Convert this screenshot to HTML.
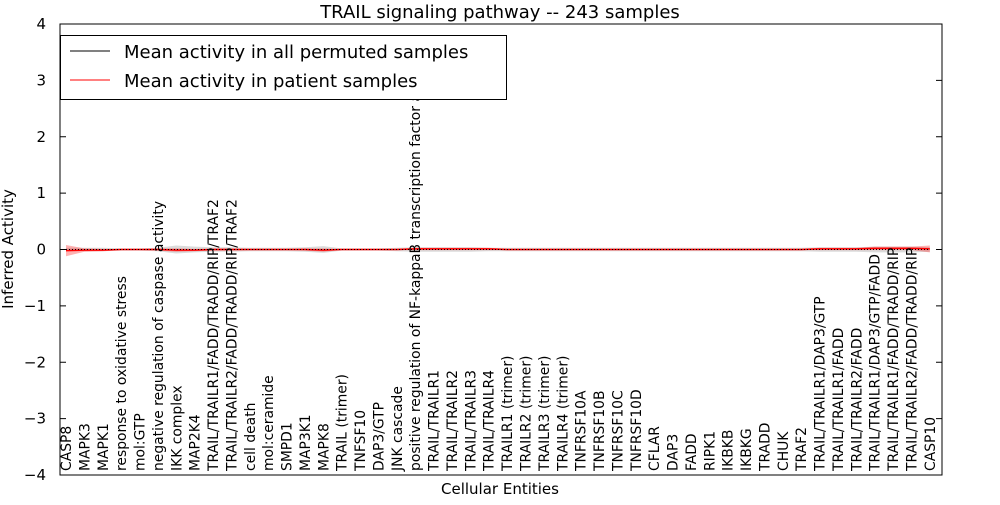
<!DOCTYPE html>
<html><head><meta charset="utf-8"><style>
body{margin:0;background:#fff;}
svg text{font-family:"DejaVu Sans","Liberation Sans",sans-serif;}
</style></head><body>
<svg id="chart" width="1000" height="500" xmlns="http://www.w3.org/2000/svg">
<rect width="1000" height="500" fill="#fff"/>
<g id="plot"></g>
<rect x="60" y="24" width="882" height="451" fill="none" stroke="#000" stroke-width="1"/>
<text x="500" y="18" font-size="18" text-anchor="middle">TRAIL signaling pathway -- 243 samples</text>
<text x="500" y="494" font-size="15" text-anchor="middle">Cellular Entities</text>
<text transform="translate(13,249) rotate(-90)" font-size="15" text-anchor="middle">Inferred Activity</text>
<g>
<rect x="60.5" y="35.5" width="446" height="64" fill="#fff" stroke="#000"/>
<line x1="70" y1="51" x2="110" y2="51" stroke="#000"/>
<text x="124" y="58" font-size="18">Mean activity in all permuted samples</text>
<line x1="70" y1="80" x2="110" y2="80" stroke="#f00"/>
<text x="124" y="87" font-size="18">Mean activity in patient samples</text>
</g>
</svg>
<script>
const categories=["CASP8","MAPK3","MAPK1","response to oxidative stress","mol:GTP","negative regulation of caspase activity","IKK complex","MAP2K4","TRAIL/TRAILR1/FADD/TRADD/RIP/TRAF2","TRAIL/TRAILR2/FADD/TRADD/RIP/TRAF2","cell death","mol:ceramide","SMPD1","MAP3K1","MAPK8","TRAIL (trimer)","TNFSF10","DAP3/GTP","JNK cascade","positive regulation of NF-kappaB transcription factor a","TRAIL/TRAILR1","TRAIL/TRAILR2","TRAIL/TRAILR3","TRAIL/TRAILR4","TRAILR1 (trimer)","TRAILR2 (trimer)","TRAILR3 (trimer)","TRAILR4 (trimer)","TNFRSF10A","TNFRSF10B","TNFRSF10C","TNFRSF10D","CFLAR","DAP3","FADD","RIPK1","IKBKB","IKBKG","TRADD","CHUK","TRAF2","TRAIL/TRAILR1/DAP3/GTP","TRAIL/TRAILR1/FADD","TRAIL/TRAILR2/FADD","TRAIL/TRAILR1/DAP3/GTP/FADD","TRAIL/TRAILR1/FADD/TRADD/RIP","TRAIL/TRAILR2/FADD/TRADD/RIP","CASP10"];
const patientMean=[-0.02,-0.01,-0.01,0,0,0,-0.01,-0.01,0,0,0,0,0,0,-0.01,0,0,0,0,0.01,0.01,0.01,0.01,0.01,0,0,0,0,0,0,0,0,0,0,0,0,0,0,0,0,0,0.01,0.01,0.01,0.02,0.02,0.02,0.01];
const patientSpread=[0.1,0.03,0.02,0.01,0.01,0.02,0.03,0.02,0.02,0.02,0.01,0.01,0.01,0.02,0.03,0.01,0.01,0.01,0.01,0.02,0.02,0.02,0.02,0.02,0.01,0.01,0.01,0.01,0.01,0.01,0.01,0.01,0.01,0.01,0.01,0.01,0.01,0.01,0.01,0.01,0.01,0.02,0.02,0.02,0.03,0.03,0.03,0.06];
const permMean=[0,0,0,0,0,0,0,0,0,0,0,0,0,0,0,0,0,0,0,0,0,0,0,0,0,0,0,0,0,0,0,0,0,0,0,0,0,0,0,0,0,0,0,0,0,0,0,0];
const permSpread=[0.03,0.03,0.03,0.02,0.02,0.03,0.07,0.05,0.04,0.04,0.03,0.03,0.03,0.04,0.06,0.02,0.02,0.02,0.03,0.04,0.04,0.04,0.04,0.03,0.03,0.03,0.03,0.03,0.03,0.03,0.03,0.03,0.03,0.03,0.03,0.03,0.03,0.03,0.03,0.03,0.03,0.04,0.04,0.04,0.05,0.05,0.05,0.04];
const yTicks=[4,3,2,1,0,-1,-2,-3,-4];

const NS="http://www.w3.org/2000/svg";
const g=document.getElementById('plot');
const X=i=>66+i*18.38;
const Y=v=>249.5-v*56.375;
function mk(t,a){const e=document.createElementNS(NS,t);for(const k in a)e.setAttribute(k,a[k]);g.appendChild(e);return e;}
function band(m,s,fill,op,name){
  let d="M"+m.map((v,i)=>X(i)+","+Y(v+s[i])).join("L");
  for(let i=m.length-1;i>=0;i--)d+="L"+X(i)+","+Y(m[i]-s[i]);
  const p=mk('path',{d:d+"Z",fill:fill,'fill-opacity':op,stroke:'none'});
  
  
}
band(permMean,permSpread,'#888',0.3,'permuted-band');
band(patientMean,patientSpread,'#f00',0.3,'patient-band');
const pl=mk('polyline',{points:patientMean.map((v,i)=>X(i)+","+Y(v)).join(" "),fill:'none',stroke:'#f00','stroke-width':1.5});


const bl=mk('polyline',{points:permMean.map((v,i)=>X(i)+","+Y(v)).join(" "),fill:'none',stroke:'#000','stroke-width':1,'stroke-dasharray':'1,2'});


yTicks.forEach(v=>{
  const y=Y(v);
  mk('line',{x1:60,y1:y,x2:66,y2:y,stroke:'#000'});
  mk('line',{x1:936,y1:y,x2:942,y2:y,stroke:'#000'});
  const t=mk('text',{x:46,y:y+5,'font-size':15,'text-anchor':'end'});
  t.textContent=(v<0?"\u2212":"")+Math.abs(v);
  
  
});
categories.forEach((c,i)=>{
  const x=X(i);
  const t=mk('text',{transform:`translate(${x+5},471) rotate(-90)`,'font-size':13.9});
  t.textContent=c;
  
  
});
</script>
</body></html>
